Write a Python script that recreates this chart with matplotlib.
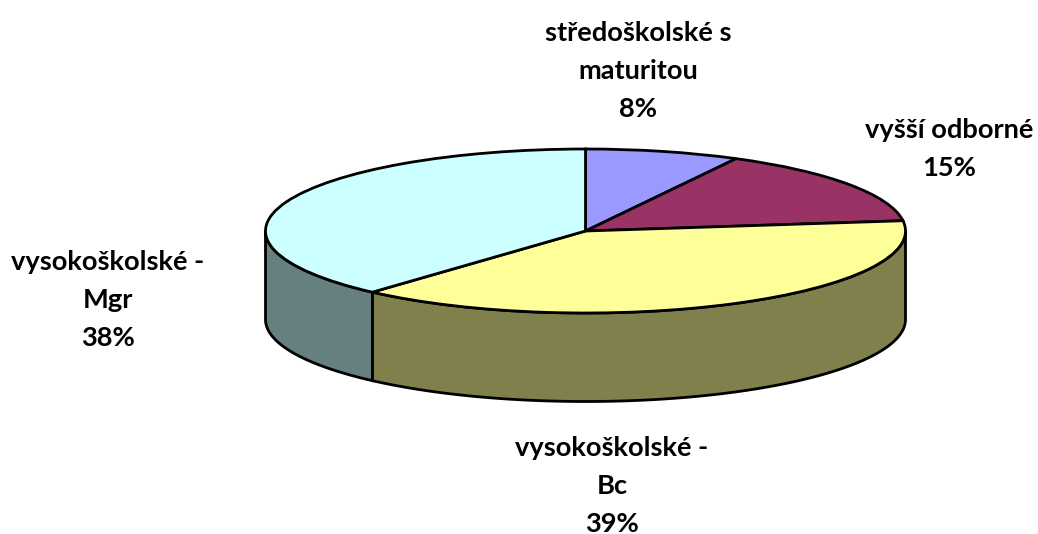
import numpy as np
import matplotlib
matplotlib.use("Agg")
import matplotlib.pyplot as plt

labels = ["středoškolské s\nmaturitou\n8%", "vyšší odborné\n15%", "vysokoškolské -\nBc\n39%", "vysokoškolské -\nMgr\n38%"]
values = [7.8, 15.2, 38.6, 38.4]
top_colors = ["#9999FF", "#993366", "#FFFF99", "#CCFFFF"]
side_colors = ["#4D4D80", "#4D1A33", "#80804D", "#668080"]
label_px = [(638, 71), (949, 149), (612, 486), (108, 300)]

W, H = 1038, 534
CX, CY, RX, RY, DEPTH = 585.5, 231, 320, 82, 88.5

fig = plt.figure(figsize=(W / 100, H / 100), dpi=100)
ax = fig.add_axes([0, 0, 1, 1])
edge = dict(edgecolor="black", linewidth=2.0)

ax.pie(values, colors=top_colors, startangle=90, counterclock=False, radius=1,
       wedgeprops=edge, normalize=True)
ax.set_aspect("auto")
ax.set_xlim(-CX / RX, (W - CX) / RX)
ax.set_ylim(-(H - CY) / RY, CY / RY)
d = DEPTH / RY

# side walls
bounds = np.cumsum([0] + values) / sum(values) * 360
for a, b, c in zip(bounds[:-1], bounds[1:], side_colors):
    lo, hi = max(a, 90), min(b, 270)
    if hi <= lo:
        continue
    t = np.radians(np.linspace(lo, hi, 200))
    x, y = np.sin(t), np.cos(t)
    ax.fill(np.r_[x, x[::-1]], np.r_[y, y[::-1] - d], facecolor=c,
            edgecolor="black", linewidth=2.0, zorder=0.5)

for s, (px, py) in zip(labels, label_px):
    ax.text((px - CX) / RX, (CY - py) / RY, s, family="Lato", weight="bold",
            fontsize=19.6, ha="center", va="center", linespacing=1.68, color="black")

fig.savefig("out.png", dpi=100)
